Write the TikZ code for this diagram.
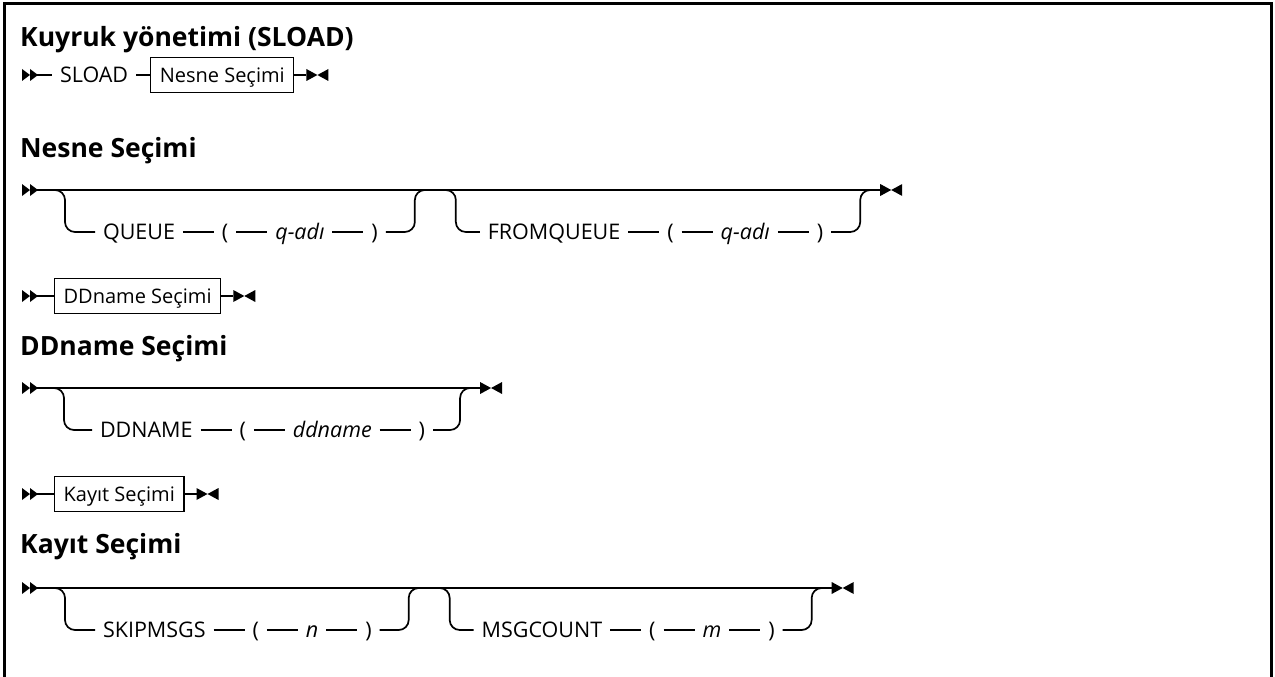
\documentclass[tikz,border=0pt]{standalone}
\usepackage{fontspec}
\setmainfont{Open Sans}
\usetikzlibrary{positioning,calc}

\tikzset{
  rail/.style={line width=1.7pt},
  tok/.style={inner sep=0pt, outer xsep=8pt, text height=18pt, text depth=4pt,
    font=\fontsize{21.5}{26}\selectfont},
  var/.style={tok, font=\fontsize{21.5}{26}\selectfont\itshape},
  refbox/.style={draw, line width=1.3pt, inner xsep=9pt, inner ysep=6.5pt,
    text height=18pt, text depth=4pt, font=\fontsize{20}{24}\selectfont},
  head/.style={anchor=base west, inner sep=0pt, font=\fontsize{26.5}{31}\selectfont\bfseries},
  startmark/.pic={\fill (0,-6) -- (8,0) -- (0,6) -- cycle;
    \fill (8,-6) -- (16,0) -- (8,6) -- cycle;},
  endmark/.pic={\fill (0,-6) -- (11,0) -- (0,6) -- cycle;
    \fill (22,-6) -- (11,0) -- (22,6) -- cycle;},
}

\begin{document}
\begin{tikzpicture}[x=1pt,y=-1pt]
    \useasboundingbox (0,0) rectangle (1275,677);

    % cerceve
    \draw[line width=3pt] (4,677) -- (4,4) -- (1271,4) -- (1271,677);

    % baslik
    \node[head] (title) at (20,47) {Kuyruk yönetimi (SLOAD)};

    % satir 1: SLOAD
    \pic at (22,75) {startmark};
    \coordinate (r1s) at (32,75);
    \node[tok, anchor=west] (sload) at (52,75) {SLOAD};
    \node[refbox, right=14pt of sload] (nesnebox) {Nesne Seçimi};
    \coordinate (r1e) at ($(nesnebox.east)+(12,0)$);
    \draw[rail] (r1s) -- (sload) -- (nesnebox) -- (r1e);
    \pic at (r1e) {endmark};

    % Nesne Secimi
    \node[head] (h2) at (20,157) {Nesne Seçimi};
    \pic at (22,190) {startmark};
    \coordinate (r2s) at (32,190);
    \node[tok, anchor=west] (qk) at (95,232) {QUEUE};
    \node[tok, right=31pt of qk] (qo) {(};
    \node[var, right=31pt of qo] (qv) {q-adı};
    \node[tok, right=31pt of qv] (qc) {)};
    \coordinate (v1) at ($(qc.east)+(29,0)$);
    \node[tok, anchor=west] (fk) at ($(v1)+(65,0)$) {FROMQUEUE};
    \node[tok, right=31pt of fk] (fo) {(};
    \node[var, right=31pt of fo] (fv) {q-adı};
    \node[tok, right=31pt of fv] (fc) {)};
    \coordinate (v2) at ($(fc.east)+(29,0)$);
    \coordinate (r2e) at ($(v2 |- r2s)+(20,0)$);
    \draw[rail] (r2s) -- (r2e);
    \draw[rail, rounded corners=10pt] (50,190) -| (65,232) -- (qk);
    \draw[rail] (qk) -- (qo) -- (qv) -- (qc);
    \draw[rail, rounded corners=10pt] (qc.east) -| (v1 |- r2s) -- ++(10,0);
    \draw[rail, rounded corners=10pt] ($(v1 |- r2s)+(26,0)$) -| ($(v1)+(41,0)$) -- (fk);
    \draw[rail] (fk) -- (fo) -- (fv) -- (fc);
    \draw[rail, rounded corners=10pt] (fc.east) -| (v2 |- r2s) -- ++(10,0);
    \pic at (r2e) {endmark};

    % satir 3: DDname Secimi
    \pic at (22,296) {startmark};
    \coordinate (r3s) at (32,296);
    \node[refbox, anchor=west] (ddbox) at (54,296) {DDname Seçimi};
    \coordinate (r3e) at ($(ddbox.east)+(12,0)$);
    \draw[rail] (r3s) -- (ddbox) -- (r3e);
    \pic at (r3e) {endmark};

    % DDname Secimi
    \node[head] (h4) at (20,355) {DDname Seçimi};
    \pic at (22,388) {startmark};
    \coordinate (r4s) at (32,388);
    \node[tok, anchor=west] (dk) at (92,430) {DDNAME};
    \node[tok, right=31pt of dk] (do) {(};
    \node[var, right=31pt of do] (dv) {ddname};
    \node[tok, right=31pt of dv] (dc) {)};
    \coordinate (v3) at ($(dc.east)+(27,0)$);
    \coordinate (r4e) at ($(v3 |- r4s)+(20,0)$);
    \draw[rail] (r4s) -- (r4e);
    \draw[rail, rounded corners=10pt] (50,388) -| (64,430) -- (dk);
    \draw[rail] (dk) -- (do) -- (dv) -- (dc);
    \draw[rail, rounded corners=10pt] (dc.east) -| (v3 |- r4s) -- ++(10,0);
    \pic at (r4e) {endmark};

    % satir 5: Kayit Secimi
    \pic at (22,494) {startmark};
    \coordinate (r5s) at (32,494);
    \node[refbox, anchor=west] (kbox) at (54,494) {Kayıt Seçimi};
    \coordinate (r5e) at ($(kbox.east)+(12,0)$);
    \draw[rail] (r5s) -- (kbox) -- (r5e);
    \pic at (r5e) {endmark};

    % Kayit Secimi
    \node[head] (h6) at (20,553) {Kayıt Seçimi};
    \pic at (22,588) {startmark};
    \coordinate (r6s) at (32,588);
    \node[tok, anchor=west] (sk) at (95,630) {SKIPMSGS};
    \node[tok, right=31pt of sk] (so) {(};
    \node[var, right=31pt of so] (sv) {n};
    \node[tok, right=31pt of sv] (sc) {)};
    \coordinate (v5) at ($(sc.east)+(29,0)$);
    \node[tok, anchor=west] (mk) at ($(v5)+(65,0)$) {MSGCOUNT};
    \node[tok, right=31pt of mk] (mo) {(};
    \node[var, right=31pt of mo] (mv) {m};
    \node[tok, right=31pt of mv] (mc) {)};
    \coordinate (v6) at ($(mc.east)+(29,0)$);
    \coordinate (r6e) at ($(v6 |- r6s)+(20,0)$);
    \draw[rail] (r6s) -- (r6e);
    \draw[rail, rounded corners=10pt] (50,588) -| (65,630) -- (sk);
    \draw[rail] (sk) -- (so) -- (sv) -- (sc);
    \draw[rail, rounded corners=10pt] (sc.east) -| (v5 |- r6s) -- ++(10,0);
    \draw[rail, rounded corners=10pt] ($(v5 |- r6s)+(26,0)$) -| ($(v5)+(41,0)$) -- (mk);
    \draw[rail] (mk) -- (mo) -- (mv) -- (mc);
    \draw[rail, rounded corners=10pt] (mc.east) -| (v6 |- r6s) -- ++(10,0);
    \pic at (r6e) {endmark};

\end{tikzpicture}
\end{document}
